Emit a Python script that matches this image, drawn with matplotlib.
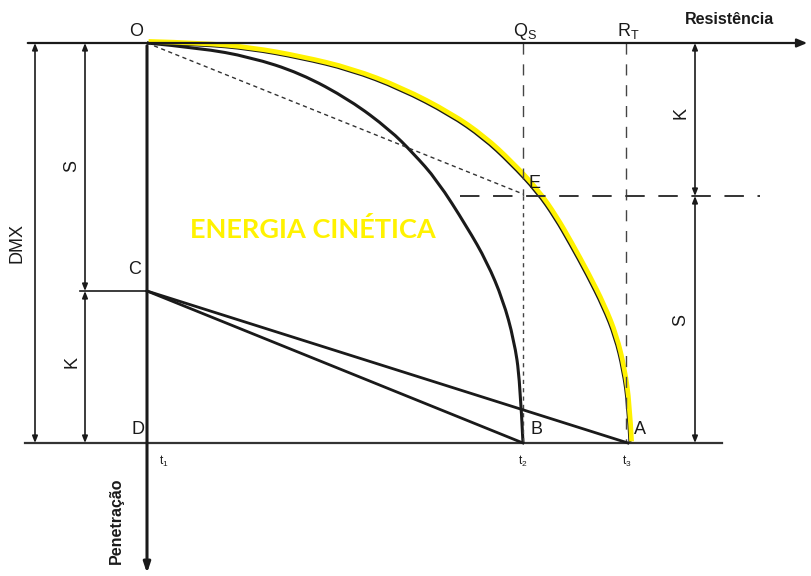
import numpy as np
import matplotlib.pyplot as plt
import matplotlib.transforms as mtransforms
from matplotlib.patches import FancyArrowPatch, PathPatch
from matplotlib.path import Path

plt.rcParams['font.family'] = ['Liberation Sans', 'DejaVu Sans']

# key points of the diagram (pixel units, y downwards)
origin = (147, 43)        # O
point_c = (147, 291)      # C
point_d = (147, 443)      # D
point_b = (523, 443)      # B
point_a = (628, 443)      # A
point_e = (523, 194)      # E
x_qs, x_rt = 523, 626
y_split = 196             # level of E (K / S split on the right)

# total resistance curve O -> A
outer_x = [147, 200, 250, 300, 350, 400, 450, 483, 510, 537, 555, 570, 587, 603, 615, 623, 628, 630]
outer_y = [43, 44.5, 49, 58, 70, 89, 115, 138, 163, 192, 218, 244, 275, 307, 337, 370, 405, 443]

# static resistance curve O -> B
inner_x = [147, 200, 250, 300, 350, 390, 413, 437, 467, 487, 503, 514, 520, 523]
inner_y = [43, 48, 57, 73, 100, 130, 153, 180, 227, 262, 300, 340, 380, 443]

fig = plt.figure(figsize=(8.11, 5.76), dpi=100)
ax = fig.add_axes([0, 0, 1, 1])
ax.set_xlim(0, 811)
ax.set_ylim(576, 0)
ax.axis('off')

ink = '#1a1a1a'
yellow = '#fff200'


def smooth_path(xs, ys):
    # quadratic B-spline with the sample points as control points
    pts = np.column_stack([xs, ys]).astype(float)
    verts = [pts[0]]
    codes = [Path.MOVETO]
    for i in range(1, len(pts) - 1):
        end = pts[i + 1] if i == len(pts) - 2 else (pts[i] + pts[i + 1]) / 2
        verts += [pts[i], end]
        codes += [Path.CURVE3, Path.CURVE3]
    return Path(verts, codes)


# axes: resistance (top) and penetration (left)
ax.annotate('', xy=(810, origin[1]), xytext=(25, origin[1]),
            arrowprops=dict(arrowstyle='-|>,head_length=0.6,head_width=0.25', color=ink, lw=1.6))
ax.annotate('', xy=(origin[0], 576), xytext=origin,
            arrowprops=dict(arrowstyle='-|>,head_length=0.6,head_width=0.2', color=ink, lw=2.2))
ax.plot([25, 722], [point_d[1], point_d[1]], color='#333333', lw=1.6)
ax.plot([80, point_c[0]], [point_c[1], point_c[1]], color=ink, lw=1.2)

# dashed guides
ax.plot([x_qs, x_qs], [origin[1], y_split], color='#444444', lw=1, dashes=(8, 7))
ax.plot([x_qs, x_qs], [y_split, point_b[1]], color='#444444', lw=1, dashes=(3, 3))
ax.plot([x_rt, x_rt], [origin[1], point_a[1]], color='#444444', lw=1, dashes=(8, 7))
ax.plot([460, 760], [y_split, y_split], color='#333333', lw=1.4, dashes=(10, 7))
ax.plot([origin[0], point_e[0]], [origin[1], point_e[1]], color='#333333', lw=1, dashes=(3, 2.5))

# curves
ax.add_patch(PathPatch(smooth_path(inner_x, inner_y), fill=False, edgecolor=ink, lw=2.2))
ax.add_patch(PathPatch(smooth_path(outer_x, outer_y), fill=False, edgecolor=ink, lw=2.2))
shift = mtransforms.ScaledTranslation(1.6 / 100, 1.6 / 100, fig.dpi_scale_trans)
ax.add_patch(PathPatch(smooth_path(outer_x, outer_y), fill=False, edgecolor=yellow, lw=3.4,
                       capstyle='butt', transform=ax.transData + shift))

# lines from C
ax.plot([point_c[0], point_b[0]], [point_c[1], point_b[1]], color=ink, lw=2)
ax.plot([point_c[0], point_a[0]], [point_c[1], point_a[1]], color=ink, lw=2)


def dim(x, y0, y1):
    ax.add_patch(FancyArrowPatch((x, y0), (x, y1), arrowstyle='<|-|>,head_length=4,head_width=1.6',
                                 color=ink, lw=1.2, shrinkA=0, shrinkB=0))


dim(35, origin[1], point_d[1])
dim(85, origin[1], point_c[1])
dim(85, point_c[1], point_d[1])
dim(695, origin[1], y_split)
dim(695, y_split, point_d[1])

fs = 13
ax.text(17, 243, 'DMX', rotation=90, ha='center', va='center', fontsize=fs, color=ink)
ax.text(72, 166, 'S', rotation=90, ha='center', va='center', fontsize=fs, color=ink)
ax.text(72, 362, 'K', rotation=90, ha='center', va='center', fontsize=fs, color=ink)
ax.text(681, 113, 'K', rotation=90, ha='center', va='center', fontsize=fs, color=ink)
ax.text(681, 320, 'S', rotation=90, ha='center', va='center', fontsize=fs, color=ink)

ax.text(136, 32, 'O', ha='center', va='center', fontsize=fs, color=ink)
ax.text(525, 31, r'Q$_\mathregular{S}$', ha='center', va='center', fontsize=fs, color=ink)
ax.text(628, 31, r'R$_\mathregular{T}$', ha='center', va='center', fontsize=fs, color=ink)
ax.text(729, 19, 'Resistência', ha='center', va='center', fontsize=11.5, fontweight='bold', color=ink)
ax.text(535, 183, 'E', ha='center', va='center', fontsize=fs, color=ink)
ax.text(135, 270, 'C', ha='center', va='center', fontsize=fs, color=ink)
ax.text(138, 430, 'D', ha='center', va='center', fontsize=fs, color=ink)
ax.text(536, 430, 'B', ha='center', va='center', fontsize=fs, color=ink)
ax.text(640, 430, 'A', ha='center', va='center', fontsize=fs, color=ink)
for tx, lab in [(164, r't$_\mathregular{1}$'), (523, r't$_\mathregular{2}$'), (627, r't$_\mathregular{3}$')]:
    ax.text(tx, 461, lab, ha='center', va='center', fontsize=8.5, color=ink)
ax.text(116, 521, 'Penetração', rotation=90, ha='center', va='center', fontsize=11.5,
        fontweight='bold', color=ink)
ax.text(313, 230, 'ENERGIA CINÉTICA', ha='center', va='center', fontsize=19.5,
        fontweight='bold', family=['Lato', 'DejaVu Sans'], color=yellow)

fig.savefig('out.png', dpi=100)
